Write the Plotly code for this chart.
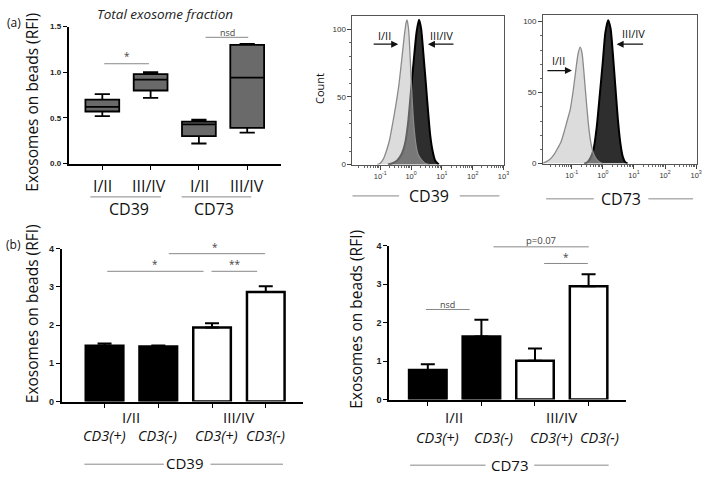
import plotly.graph_objects as go

W, H = 709, 478

# ---------------- data ----------------
box_groups = ["CD39 I/II", "CD39 III/IV", "CD73 I/II", "CD73 III/IV"]
box_pos = [0, 1, 2, 3]
box_low = [0.52, 0.72, 0.22, 0.34]
box_q1 = [0.57, 0.80, 0.30, 0.39]
box_median = [0.62, 0.92, 0.43, 0.94]
box_q3 = [0.70, 0.98, 0.46, 1.30]
box_high = [0.76, 1.00, 0.48, 1.31]

# flow histograms (log10 intensity, count)
cd39_low_log = [-1.1, -1.0, -0.9, -0.8, -0.7, -0.6, -0.5, -0.4, -0.3, -0.22, -0.16, -0.13, -0.08, -0.03, 0.02, 0.08, 0.15, 0.22, 0.32, 0.45, 0.6]
cd39_low_cnt = [0, 1, 4, 10, 18, 30, 43, 58, 78, 95, 105, 107, 100, 80, 55, 32, 16, 8, 4, 1, 0]
cd39_high_log = [-0.75, -0.6, -0.45, -0.3, -0.2, -0.1, 0.0, 0.1, 0.18, 0.26, 0.33, 0.4, 0.48, 0.55, 0.62, 0.7, 0.78, 0.9]
cd39_high_cnt = [0, 1, 3, 8, 15, 30, 55, 80, 98, 107, 100, 82, 60, 40, 22, 10, 3, 0]

cd73_low_log = [-1.95, -1.85, -1.7, -1.55, -1.45, -1.35, -1.25, -1.15, -1.05, -0.95, -0.88, -0.8, -0.73, -0.67, -0.6, -0.52, -0.45, -0.38, -0.3, -0.2, -0.1, 0.0]
cd73_low_cnt = [0, 1, 3, 7, 11, 15, 22, 30, 38, 52, 64, 77, 82, 78, 62, 41, 25, 14, 7, 3, 1, 0]
cd73_high_log = [-0.6, -0.5, -0.4, -0.3, -0.2, -0.1, 0.0, 0.08, 0.17, 0.25, 0.32, 0.4, 0.48, 0.56, 0.64, 0.72, 0.8]
cd73_high_cnt = [0, 1, 4, 10, 25, 48, 72, 92, 101, 95, 78, 55, 32, 15, 5, 1, 0]

bar_groups = ["I/II CD3(+)", "I/II CD3(-)", "III/IV CD3(+)", "III/IV CD3(-)"]
bar_pos = [0, 1, 2, 3]
cd39_mean = [1.46, 1.44, 1.94, 2.87]
cd39_sem = [0.06, 0.03, 0.11, 0.15]
cd73_mean = [0.77, 1.64, 1.01, 2.95]
cd73_sem = [0.15, 0.44, 0.32, 0.31]
bar_fill = ["black", "black", "white", "white"]

# ---------------- helpers ----------------
def px(x):
    return x / W

def py(y):
    return 1 - y / H

SANS = "Open Sans"
TICKF = dict(family="Liberation Sans", size=8, color="#222", weight="bold")

fig = go.Figure()

# box plot (a)
fig.add_trace(go.Box(
    x=box_pos, q1=box_q1, median=box_median, q3=box_q3,
    lowerfence=box_low, upperfence=box_high,
    width=0.7, whiskerwidth=0.45, boxpoints=False,
    fillcolor="#6a6a6a", line=dict(color="black", width=1.8),
    xaxis="x", yaxis="y", showlegend=False, hoverinfo="skip",
))

# histograms CD39
fig.add_trace(go.Scatter(
    x=[10 ** v for v in cd39_high_log], y=cd39_high_cnt, mode="lines",
    line=dict(color="black", width=2, shape="spline", smoothing=0.6),
    fill="tozeroy", fillcolor="#2e2e2e", xaxis="x2", yaxis="y2", showlegend=False,
))
fig.add_trace(go.Scatter(
    x=[10 ** v for v in cd39_low_log], y=cd39_low_cnt, mode="lines",
    line=dict(color="#8a8a8a", width=1.3, shape="spline", smoothing=0.6),
    fill="tozeroy", fillcolor="rgba(187,187,187,0.52)", xaxis="x2", yaxis="y2", showlegend=False,
))
# histograms CD73
fig.add_trace(go.Scatter(
    x=[10 ** v for v in cd73_high_log], y=cd73_high_cnt, mode="lines",
    line=dict(color="black", width=2, shape="spline", smoothing=0.6),
    fill="tozeroy", fillcolor="#2e2e2e", xaxis="x3", yaxis="y3", showlegend=False,
))
fig.add_trace(go.Scatter(
    x=[10 ** v for v in cd73_low_log], y=cd73_low_cnt, mode="lines",
    line=dict(color="#8a8a8a", width=1.3, shape="spline", smoothing=0.6),
    fill="tozeroy", fillcolor="rgba(187,187,187,0.52)", xaxis="x3", yaxis="y3", showlegend=False,
))

# bars (b)
for mean, sem, xa, ya in [(cd39_mean, cd39_sem, "x4", "y4"), (cd73_mean, cd73_sem, "x5", "y5")]:
    fig.add_trace(go.Bar(
        x=bar_pos, y=mean, width=0.7,
        marker=dict(color=bar_fill, line=dict(color="black", width=2.5)),
        error_y=dict(type="data", array=sem, arrayminus=[0] * len(sem), symmetric=False,
                     color="black", thickness=2, width=7),
        xaxis=xa, yaxis=ya, showlegend=False,
    ))

# ---------------- axes ----------------
def cat_x(domain, rng, anchor):
    return dict(domain=domain, range=rng, anchor=anchor, showline=True, linecolor="black",
                linewidth=1.6, ticks="outside", ticklen=5, tickwidth=1.4, tickcolor="black",
                tickvals=[0, 1, 2, 3], showticklabels=False, showgrid=False, zeroline=False,
                fixedrange=True)

def val_y(domain, rng, anchor, tv, tt, size=8):
    return dict(domain=domain, range=rng, anchor=anchor, showline=True, linecolor="black",
                linewidth=1.6, ticks="outside", ticklen=4, tickwidth=1.4, tickcolor="black",
                tickvals=tv, ticktext=tt, tickfont=dict(TICKF, size=size), showgrid=False,
                zeroline=False, fixedrange=True)

minor_log = [k * 10 ** e for e in range(-2, 3) for k in range(2, 10)]
log_ticks = [0.1, 1, 10, 100, 1000]
log_text = ["10<sup>-1</sup>", "10<sup>0</sup>", "10<sup>1</sup>", "10<sup>2</sup>", "10<sup>3</sup>"]

def hist_x(domain, rng, anchor):
    return dict(domain=domain, type="log", range=rng, anchor=anchor, showline=True, mirror=True,
                linecolor="#555", linewidth=1, ticks="outside", ticklen=4, tickcolor="#444",
                tickvals=log_ticks, ticktext=log_text,
                tickfont=dict(family="Liberation Sans", size=7.5, color="#333"),
                minor=dict(tickvals=minor_log, ticks="outside", ticklen=2, tickcolor="#666"),
                showgrid=False, zeroline=False, fixedrange=True)

def hist_y(domain, rng, anchor):
    return dict(domain=domain, range=rng, anchor=anchor, showline=True, mirror=True,
                linecolor="#555", linewidth=1, ticks="outside", ticklen=4, tickcolor="#444",
                tickvals=[0, 50, 100], tickfont=dict(family="Liberation Sans", size=8, color="#333"),
                minor=dict(tickvals=list(range(10, 110, 10)), ticks="outside", ticklen=2, tickcolor="#666"),
                showgrid=False, zeroline=False, fixedrange=True)

fig.update_layout(
    width=W, height=H, margin=dict(l=0, r=0, t=0, b=0),
    paper_bgcolor="white", plot_bgcolor="rgba(0,0,0,0)", showlegend=False,
    xaxis=cat_x([px(69), px(283)], [-0.70, 3.70], "y"),
    yaxis=val_y([py(162), py(22)], [0, 1.5], "x", [0, 0.5, 1.0, 1.5], ["0.0", "0.5", "1.0", "1.5"]),
    xaxis2=hist_x([px(355), px(508)], [-1.9, 3.03], "y2"),
    yaxis2=hist_y([py(163), py(11)], [0, 110], "x2"),
    xaxis3=hist_x([px(547), px(702)], [-1.92, 3.03], "y3"),
    yaxis3=hist_y([py(162), py(10)], [0, 104.8], "x3"),
    xaxis4=cat_x([px(62), px(305)], [-0.80, 3.69], "y4"),
    yaxis4=val_y([py(405), py(249)], [0, 4], "x4", [0, 1, 2, 3, 4], ["0", "1", "2", "3", "4"], 9),
    xaxis5=cat_x([px(392), px(630)], [-0.72, 3.69], "y5"),
    yaxis5=val_y([py(403), py(246)], [0, 4], "x5", [0, 1, 2, 3, 4], ["0", "1", "2", "3", "4"], 9),
)

anns = []
shapes = []

def text(x, y, s, size, italic=False, color="#111", angle=0, family=SANS, weight="normal"):
    anns.append(dict(x=px(x), y=py(y), xref="paper", yref="paper", text=s, showarrow=False,
                     xanchor="center", yanchor="middle", textangle=angle,
                     font=dict(family=family, size=size, color=color,
                               style="italic" if italic else "normal", weight=weight)))

def hline(x0, x1, y, color="#888", width=1):
    shapes.append(dict(type="line", xref="paper", yref="paper", x0=px(x0), x1=px(x1),
                       y0=py(y), y1=py(y), line=dict(color=color, width=width)))

def arrow(x_tail, x_head, y):
    anns.append(dict(x=px(x_head), y=py(y), xref="paper", yref="paper", text="",
                     showarrow=True, ax=x_tail - x_head, ay=0, arrowhead=2, arrowsize=1,
                     arrowwidth=1.4, arrowcolor="#111"))

# panel labels & titles
text(14, 18, "(a)", 12)
text(14, 245, "(b)", 12)
text(166, 9, "Total exosome fraction", 13.5, italic=True, color="#222")
text(32, 99, "Exosomes on beads (RFI)", 15.5, angle=-90)
text(33, 315, "Exosomes on beads (RFI)", 15.5, angle=-90)
text(359, 321, "Exosomes on beads (RFI)", 15.5, angle=-90)
text(321, 85, "Count", 11, angle=-90)

# panel (a) box labels
text(103, 185, "I/II", 16)
text(150, 185, "III/IV", 16)
text(201, 185, "I/II", 16)
text(249, 185, "III/IV", 16)
hline(91, 162, 196, color="#888")
hline(183, 253, 196, color="#888")
text(130, 208, "CD39", 16)
text(216, 208, "CD73", 16)
hline(105, 150, 60)
text(128, 52, "*", 10, color="#444")
hline(207, 250, 33)
text(229, 28, "nsd", 9, color="#444")

# histogram labels
text(387, 31, "I/II", 11)
arrow(375, 401, 40)
text(445, 31, "III/IV", 11)
arrow(458, 431, 40)
text(562, 57, "I/II", 11)
arrow(550, 576, 67)
text(638, 29, "III/IV", 11)
arrow(649, 621, 40)
hline(355, 402, 195)
hline(463, 503, 195)
text(432, 195, "CD39", 16)
hline(550, 598, 198)
hline(653, 698, 198)
text(625, 198, "CD73", 16)

# panel (b) left labels
text(132, 421, "I/II", 15)
text(240, 421, "III/IV", 15)
for xx, lab in zip([105, 159, 218, 267], ["CD3(+)", "CD3(-)", "CD3(+)", "CD3(-)"]):
    text(xx, 440, lab, 14.5, italic=True)
hline(85, 165, 469)
hline(212, 285, 469)
text(186, 468, "CD39", 15)
hline(108, 205, 272)
text(156, 265, "*", 10, color="#444")
hline(170, 267, 254)
text(217, 247, "*", 10, color="#444")
hline(213, 259, 272)
text(237, 265, "**", 10, color="#444")

# panel (b) right labels
text(457, 421, "I/II", 15)
text(565, 421, "III/IV", 15)
for xx, lab in zip([441, 497, 555, 604], ["CD3(+)", "CD3(-)", "CD3(+)", "CD3(-)"]):
    text(xx, 442, lab, 14.5, italic=True)
hline(413, 489, 470)
hline(538, 613, 470)
text(514, 470, "CD73", 15)
hline(429, 473, 311)
text(451, 306, "nsd", 9, color="#444")
hline(497, 593, 247)
text(545, 241, "p=0.07", 9.5, color="#444")
hline(548, 592, 264)
text(570, 257, "*", 10, color="#444")

fig.update_layout(annotations=anns, shapes=shapes)
fig.write_html("out.html", config={"displayModeBar": False},
               post_script="document.body.style.margin='0';document.body.style.overflow='hidden';")
